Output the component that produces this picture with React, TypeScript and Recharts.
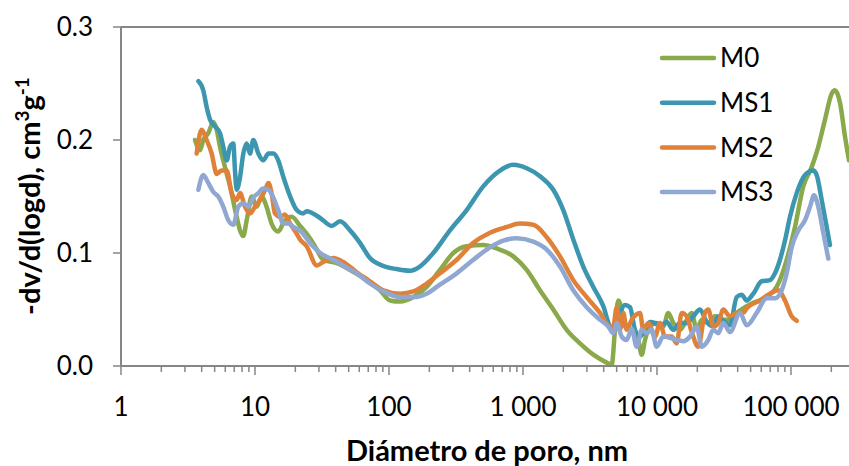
import React from 'react';
import { LineChart, Line, XAxis, YAxis, ReferenceLine, Customized } from 'recharts';

// Pore size distribution: [pore diameter (nm), -dV/d(log d) (cm3/g)]
const M0: [number, number][] = [
  [3.57, 0.200], [3.89, 0.191], [4.11, 0.200], [4.48, 0.206], [4.89, 0.216], [5.18, 0.209],
  [5.48, 0.194], [5.97, 0.176], [6.51, 0.159], [7.3, 0.132], [7.73, 0.120], [8.18, 0.115],
  [8.67, 0.129], [9.45, 0.150], [10.3, 0.141], [11.2, 0.150], [12.2, 0.141], [13.3, 0.126],
  [14.9, 0.119], [16.7, 0.129], [18.8, 0.132], [21.7, 0.124], [25.7, 0.113], [28.0, 0.106],
  [32.3, 0.094], [40.7, 0.091], [51.2, 0.085], [64.3, 0.078], [85.7, 0.067], [102, 0.058],
  [121, 0.057], [152, 0.061], [191, 0.070], [240, 0.085], [302, 0.100], [380, 0.106],
  [505, 0.107], [636, 0.104], [847, 0.097], [1066, 0.085], [1339, 0.067], [1683, 0.050],
  [2119, 0.032], [2663, 0.020], [3347, 0.010], [4213, 0.003], [4592, 0.001], [4861, 0.032],
  [5144, 0.058], [5455, 0.050], [5772, 0.035], [6476, 0.032], [7252, 0.023], [7690, 0.010],
  [8138, 0.023], [8868, 0.035], [9949, 0.038], [11140, 0.035], [12140, 0.047], [13230, 0.038],
  [14850, 0.032], [16180, 0.038], [18160, 0.047], [19790, 0.032], [21560, 0.041], [24140, 0.038],
  [27090, 0.044], [31240, 0.041], [35060, 0.041], [39340, 0.047], [45370, 0.052], [52330, 0.056],
  [65890, 0.061], [78220, 0.070], [92890, 0.094], [107100, 0.123], [123500, 0.159],
  [142700, 0.176], [159800, 0.194], [179400, 0.218], [201200, 0.241], [213000, 0.244],
  [232200, 0.233], [253000, 0.203], [271000, 0.182],
];

const MS1: [number, number][] = [
  [3.78, 0.252], [4.11, 0.244], [4.36, 0.229], [4.62, 0.218], [5.03, 0.212], [5.48, 0.206],
  [5.8, 0.194], [6.15, 0.182], [6.51, 0.194], [6.89, 0.197], [7.09, 0.173], [7.3, 0.156],
  [7.73, 0.167], [8.18, 0.188], [8.67, 0.197], [9.18, 0.188], [9.71, 0.200], [10.6, 0.188],
  [11.5, 0.182], [12.6, 0.188], [13.7, 0.188], [14.9, 0.182], [16.3, 0.167], [18.3, 0.150],
  [20.5, 0.138], [22.8, 0.135], [24.3, 0.137], [30.6, 0.131], [37.4, 0.124], [43.1, 0.128],
  [51.2, 0.120], [60.7, 0.109], [72.1, 0.0955], [90.7, 0.0885], [114, 0.0858], [144, 0.0843],
  [170, 0.088], [214, 0.100], [285, 0.120], [380, 0.138], [505, 0.159], [673, 0.173],
  [847, 0.178], [1066, 0.175], [1339, 0.168], [1683, 0.156], [1998, 0.138], [2373, 0.112],
  [2818, 0.088], [3347, 0.070], [3975, 0.053], [4460, 0.035], [4861, 0.032], [5297, 0.047],
  [5772, 0.054], [6289, 0.052], [6853, 0.032], [7468, 0.026], [8138, 0.032], [8868, 0.039],
  [9663, 0.038], [10530, 0.035], [11810, 0.039], [13230, 0.032], [14850, 0.038], [16660, 0.038],
  [18660, 0.044], [20940, 0.050], [23490, 0.039], [26310, 0.035], [28670, 0.044], [31240, 0.040],
  [35060, 0.036], [39340, 0.061], [42870, 0.063], [46710, 0.058], [52330, 0.064], [60440, 0.075],
  [69700, 0.076], [75960, 0.082], [82770, 0.094], [90200, 0.111], [98300, 0.132],
  [110300, 0.153], [127200, 0.169], [146700, 0.173], [155500, 0.169], [169500, 0.147],
  [184700, 0.123], [195400, 0.107],
];

const MS2: [number, number][] = [
  [3.67, 0.188], [4.0, 0.209], [4.36, 0.200], [4.75, 0.188], [5.18, 0.170], [5.65, 0.173],
  [6.15, 0.173], [6.7, 0.153], [7.3, 0.147], [7.73, 0.153], [8.42, 0.141], [9.18, 0.135],
  [10.0, 0.141], [10.9, 0.147], [11.9, 0.156], [12.6, 0.162], [13.3, 0.153], [14.1, 0.135],
  [15.4, 0.132], [16.7, 0.134], [18.3, 0.126], [20.5, 0.117], [21.7, 0.112], [24.3, 0.106],
  [28.9, 0.089], [32.3, 0.092], [38.4, 0.0955], [45.6, 0.092], [57.4, 0.083], [72.1, 0.075],
  [90.7, 0.067], [121, 0.064], [152, 0.066], [191, 0.073], [240, 0.082], [320, 0.094],
  [426, 0.109], [567, 0.118], [756, 0.123], [950, 0.126], [1194, 0.125], [1503, 0.114],
  [1889, 0.097], [2373, 0.076], [2988, 0.061], [3755, 0.047], [4460, 0.035], [4720, 0.035],
  [5005, 0.052], [5297, 0.032], [5606, 0.047], [5943, 0.032], [6476, 0.041], [7468, 0.047],
  [7904, 0.032], [8613, 0.038], [9663, 0.026], [10530, 0.038], [11470, 0.026], [12870, 0.026],
  [14030, 0.020], [15290, 0.047], [16660, 0.044], [18160, 0.030], [20340, 0.017], [22820, 0.047],
  [24140, 0.050], [26310, 0.035], [28670, 0.038], [31240, 0.050], [35060, 0.044], [39340, 0.047],
  [44060, 0.047], [46710, 0.051], [58710, 0.058], [69700, 0.064], [80400, 0.067], [90200, 0.058],
  [101200, 0.044], [110300, 0.040],
];

const MS3: [number, number][] = [
  [3.78, 0.156], [4.11, 0.169], [4.48, 0.162], [4.89, 0.154], [5.32, 0.150], [5.8, 0.141],
  [6.32, 0.129], [6.89, 0.125], [7.51, 0.141], [8.18, 0.144], [8.91, 0.141], [9.71, 0.149],
  [10.6, 0.153], [11.5, 0.157], [12.6, 0.156], [13.7, 0.149], [14.9, 0.138], [16.3, 0.126],
  [17.7, 0.126], [19.3, 0.123], [21.7, 0.120], [25.7, 0.109], [30.6, 0.100], [38.4, 0.094],
  [48.3, 0.087], [57.4, 0.082], [72.1, 0.073], [90.7, 0.066], [121, 0.061], [152, 0.061],
  [191, 0.064], [240, 0.072], [320, 0.082], [426, 0.094], [567, 0.105], [713, 0.111],
  [898, 0.113], [1194, 0.110], [1503, 0.103], [1889, 0.088], [2373, 0.067], [2988, 0.052],
  [3755, 0.041], [4331, 0.035], [4720, 0.029], [5005, 0.038], [5455, 0.026], [5943, 0.023],
  [6476, 0.033], [7056, 0.017], [7690, 0.032], [8379, 0.029], [9130, 0.032], [9949, 0.017],
  [11140, 0.026], [12500, 0.025], [14030, 0.023], [15720, 0.022], [17630, 0.026], [19790, 0.035],
  [21560, 0.017], [24140, 0.023], [26310, 0.032], [28670, 0.029], [31240, 0.038], [35060, 0.030],
  [41630, 0.047], [46710, 0.036], [55460, 0.047], [65890, 0.060], [75960, 0.060], [85230, 0.067],
  [92890, 0.082], [101200, 0.105], [113400, 0.120], [127200, 0.129], [138700, 0.141],
  [148500, 0.151], [159800, 0.141], [174200, 0.118], [189900, 0.095],
];

const SERIES = [
  { name: 'M0', color: '#89A94B', points: M0 },
  { name: 'MS1', color: '#3C96AF', points: MS1 },
  { name: 'MS2', color: '#E0813A', points: MS2 },
  { name: 'MS3', color: '#8FA7D1', points: MS3 },
];

const X_MAJOR = [1, 10, 100, 1000, 10000, 100000];
const X_MINOR_MULT = [2, 3, 4, 5, 6, 7, 8, 9];
const X_MAX = 271000;
const Y_TICKS = [0, 0.1, 0.2, 0.3];

const X_TICKS = [
  ...X_MAJOR,
  ...X_MAJOR.flatMap((d) => X_MINOR_MULT.map((m) => m * d)).filter((v) => v <= X_MAX),
].sort((a, b) => a - b);

const FONT = "Lato, 'Open Sans', sans-serif";
const AXIS = '#868686';

const fmtThousands = (v: number) => String(v).replace(/\B(?=(\d{3})+(?!\d))/g, ' ');

const XTick = (props: any) => {
  const { x, y, payload } = props;
  const v = payload.value;
  const major = X_MAJOR.includes(v);
  return (
    <g>
      <line x1={x} x2={x} y1={y} y2={y + (major ? 9 : 6)} stroke={AXIS} strokeWidth={1.5} />
      {major && (
        <text x={x} y={y + 50} textAnchor="middle" fontFamily={FONT} fontSize={26} fill="#000">
          {fmtThousands(v)}
        </text>
      )}
    </g>
  );
};

const YTitle = () => (
  <text
    transform="translate(40,196) rotate(-90)"
    textAnchor="middle"
    fontFamily={FONT}
    fontWeight="bold"
    fontSize={29}
    fill="#000"
  >
    -dv/d(logd), cm
    <tspan dy={-11} fontSize={19}>3</tspan>
    <tspan dy={11}>g</tspan>
    <tspan dy={-11} fontSize={19}>-1</tspan>
  </text>
);

const XTitle = () => (
  <text x={487} y={461} textAnchor="middle" fontFamily={FONT} fontWeight="bold" fontSize={29} fill="#000">
    Diámetro de poro, nm
  </text>
);

const LegendBox = () => (
  <g>
    {SERIES.map((s, i) => {
      const cy = 58 + i * 44.7;
      return (
        <g key={s.name}>
          <line x1={662} x2={714} y1={cy} y2={cy} stroke={s.color} strokeWidth={4.5} strokeLinecap="round" />
          <text x={720} y={cy} dy="0.36em" fontFamily={FONT} fontSize={26} fill="#000">
            {s.name}
          </text>
        </g>
      );
    })}
  </g>
);

export default function App() {
  return (
    <div style={{ position: 'absolute', left: 0, top: 0, background: '#fff' }}>
      <LineChart width={849} height={466} margin={{ top: 27, right: 0, bottom: 40, left: 0 }}>
        <XAxis
          dataKey="x"
          type="number"
          scale="log"
          domain={[1, X_MAX]}
          allowDataOverflow
          ticks={X_TICKS}
          interval={0}
          height={60}
          tickSize={0}
          tickMargin={0}
          tickLine={false}
          tick={<XTick />}
          axisLine={{ stroke: AXIS, strokeWidth: 2 }}
          label={<XTitle />}
        />
        <YAxis
          type="number"
          domain={[0, 0.3]}
          ticks={Y_TICKS}
          width={121}
          tickSize={8}
          tickMargin={20}
          tickFormatter={(v: number) => v.toFixed(1)}
          tick={{ fill: '#000', fontSize: 26, fontFamily: FONT }}
          tickLine={{ stroke: AXIS, strokeWidth: 1.5 }}
          axisLine={{ stroke: AXIS, strokeWidth: 2 }}
          label={<YTitle />}
        />
        <ReferenceLine y={0.3} stroke={AXIS} strokeWidth={2} />
        {SERIES.map((s) => (
          <Line
            key={s.name}
            name={s.name}
            data={s.points.map(([x, y]) => ({ x, y }))}
            dataKey="y"
            type="monotone"
            stroke={s.color}
            strokeWidth={4.5}
            strokeLinecap="round"
            strokeLinejoin="round"
            dot={false}
            activeDot={false}
            isAnimationActive={false}
          />
        ))}
        <Customized component={LegendBox} />
      </LineChart>
    </div>
  );
}
